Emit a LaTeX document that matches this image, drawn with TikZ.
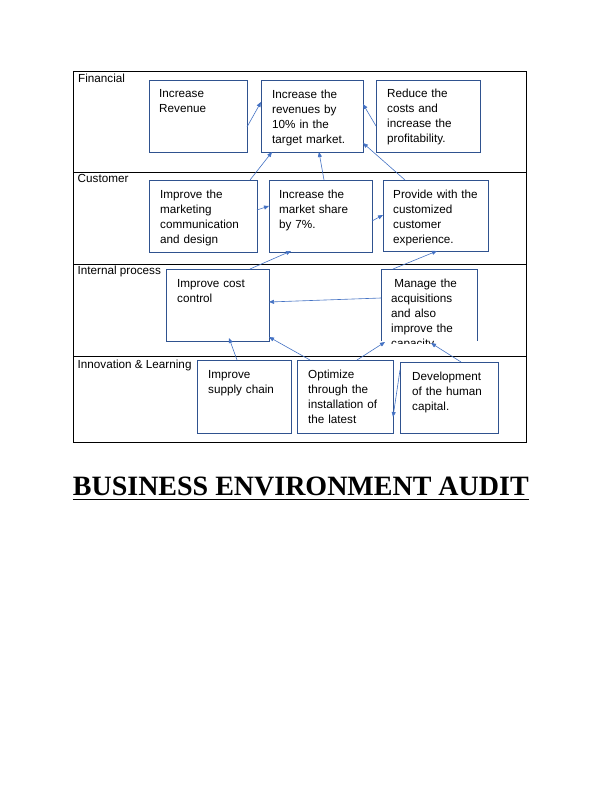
\documentclass[tikz,border=0pt]{standalone}
\usepackage{fontspec}
\newfontfamily\arialf{Liberation Sans}
\newfontfamily\timesf{Liberation Serif}
\usetikzlibrary{arrows.meta,calc}
\definecolor{boxblue}{HTML}{2F528F}
\definecolor{arrblue}{HTML}{4472C4}
\begin{document}
\begin{tikzpicture}[x=1pt,y=-1pt,
  bx/.style={draw=boxblue,line width=0.8pt,inner sep=0pt,outer sep=0pt,anchor=north west},
  nobx/.style={inner sep=0pt,outer sep=0pt,anchor=north west},
  txt/.style={font=\arialf\fontsize{11.7}{15}\selectfont,inner sep=0pt,anchor=base west,align=left,text width=100pt},
  lbl/.style={font=\arialf\fontsize{11.7}{15}\selectfont,inner sep=0pt,anchor=base west},
  arr/.style={draw=arrblue,line width=0.6pt,-{Triangle[length=5pt,width=4pt]}},
  tbl/.style={draw=black,line width=0.8pt}]
\fill[white] (0,0) rectangle (612,792);
\useasboundingbox (0,0) rectangle (612,792);
% table
\draw[tbl] (73,71) rectangle (526,442);
\draw[tbl] (73,172) -- (526,172);
\draw[tbl] (73,264) -- (526,264);
\draw[tbl] (73,356) -- (526,356);
\node[lbl] (lfin) at (78,82.5) {Financial};
\node[lbl] (lcus) at (77.5,182.5) {Customer};
\node[lbl] (lint) at (77.5,274.5) {Internal process};
\node[lbl] (linn) at (77.5,368) {Innovation \& Learning};
% boxes
\node[bx,minimum width=98pt,minimum height=72pt] (ir) at (149,80) {};
\node[bx,minimum width=102pt,minimum height=72pt] (irev) at (261,80) {};
\node[bx,minimum width=104pt,minimum height=72pt] (rc) at (376,80) {};
\node[bx,minimum width=108pt,minimum height=72pt] (imk) at (149,180) {};
\node[bx,minimum width=103pt,minimum height=72pt] (ims) at (269,180) {};
\node[bx,minimum width=105pt,minimum height=71pt] (pwc) at (383,180) {};
\node[bx,minimum width=103pt,minimum height=72pt] (icc) at (166,269) {};
\node[nobx,minimum width=96pt,minimum height=72pt] (mac) at (381,269) {};
\draw[draw=boxblue,line width=0.8pt] (mac.south west) -- (mac.north west) -- (mac.north east) -- (mac.south east);
\node[bx,minimum width=94pt,minimum height=73pt] (isc) at (197,360) {};
\node[bx,minimum width=96pt,minimum height=73pt] (opt) at (297,360) {};
\node[bx,minimum width=98pt,minimum height=71pt] (dev) at (400,362) {};
% texts
\node[txt] (tir) at ($(ir.north west)+(10,17.5)$) {Increase\\Revenue};
\node[txt] (tirev) at ($(irev.north west)+(11,18)$) {Increase the\\revenues by\\10\% in the\\target market.};
\node[txt] (trc) at ($(rc.north west)+(11,17.5)$) {Reduce the\\costs and\\increase the\\profitability.};
\node[txt] (timk) at ($(imk.north west)+(11,18)$) {Improve the\\marketing\\communication\\and design};
\node[txt] (tims) at ($(ims.north west)+(10,18)$) {Increase the\\market share\\by 7\%.};
\node[txt] (tpwc) at ($(pwc.north west)+(10,18)$) {Provide with the\\customized\\customer\\experience.};
\node[txt] (ticc) at ($(icc.north west)+(11,18)$) {Improve cost\\control};
\begin{scope}
\clip ($(mac.north west)+(0,0)$) rectangle ($(mac.south east)+(0,2)$);
\node[txt] (tmac) at ($(mac.north west)+(10,18.5)$) {\hspace*{3.2pt}Manage the\\acquisitions\\and also\\improve the\\capacity};
\end{scope}
\node[txt] (tisc) at ($(isc.north west)+(11,18)$) {Improve\\supply chain};
\node[txt] (topt) at ($(opt.north west)+(11,18)$) {Optimize\\through the\\installation of\\the latest};
\node[txt] (tdev) at ($(dev.north west)+(12,18)$) {Development\\of the human\\capital.};
% arrows
\draw[arr] ($(ir.north west)+(98,47)$) -- ($(irev.north west)+(0,22)$);
\draw[arr] ($(rc.north west)+(0,46)$) -- ($(irev.north west)+(102,24)$);
\draw[arr] ($(imk.north west)+(101,0)$) -- ($(irev.north west)+(11,72)$);
\draw[arr] ($(ims.north west)+(55,0)$) -- ($(irev.north west)+(58,72)$);
\draw[arr] ($(pwc.north west)+(22,0)$) -- ($(irev.north west)+(102,63)$);
\draw[arr] ($(imk.north west)+(108,30)$) -- ($(ims.north west)+(0,26)$);
\draw[arr] ($(ims.north west)+(103,41)$) -- ($(pwc.north west)+(0,35)$);
\draw[arr] ($(icc.north west)+(84,0)$) -- ($(ims.north west)+(22,71)$);
\draw[arr] ($(mac.north west)+(12,0)$) -- ($(pwc.north west)+(54,71)$);
\draw[arr] ($(mac.north west)+(0,29)$) -- ($(icc.north west)+(103,33)$);
\draw[arr] ($(isc.north west)+(40,0)$) -- ($(icc.north west)+(63,69)$);
\draw[arr] ($(opt.north west)+(13,0)$) -- ($(icc.north west)+(103,68)$);
\draw[arr] ($(opt.north west)+(60,0)$) -- ($(mac.north west)+(4,73)$);
\draw[arr] ($(dev.north west)+(61,0)$) -- ($(mac.north west)+(50,74)$);
\draw[arr] ($(dev.north west)+(0,8)$) -- ($(opt.north west)+(96,57)$);
% title
\node[inner sep=0pt,anchor=base west,font=\timesf\bfseries\fontsize{28}{32}\selectfont] (title) at (72.7,495) {BUSINESS ENVIRONMENT AUDIT};
\draw[line width=1.6pt] ($(title.base west)+(0,4.5)$) -- ($(title.base east)+(0,4.5)$);
\end{tikzpicture}
\end{document}
